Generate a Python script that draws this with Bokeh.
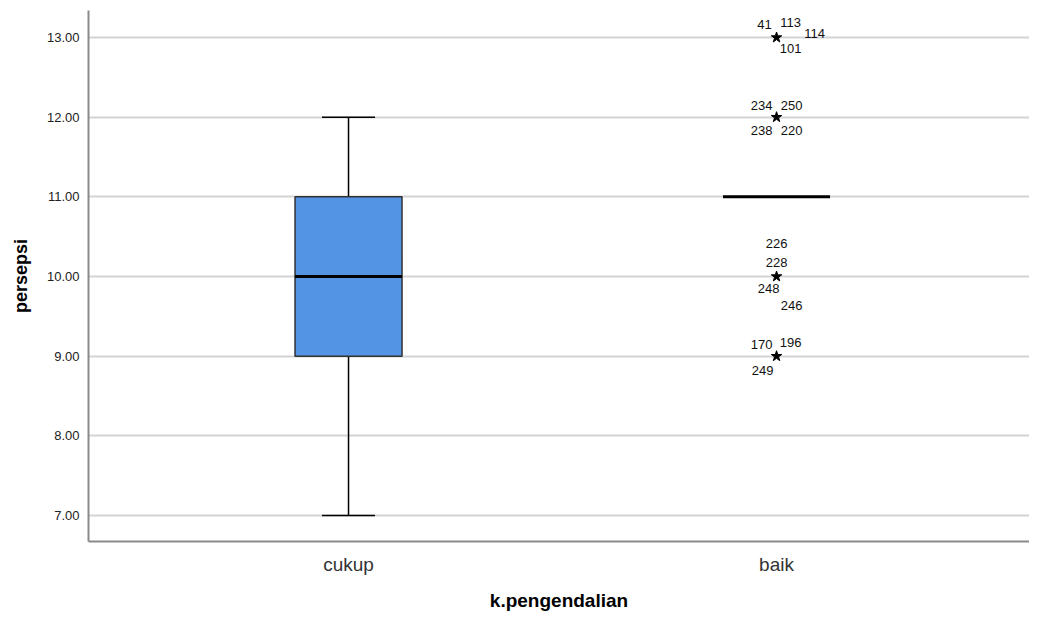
from bokeh.plotting import figure
from bokeh.models import Range1d, FixedTicker, ColumnDataSource
from bokeh.embed import file_html
from bokeh.resources import INLINE
from bokeh.core.properties import value

# ---- data ----
categories = ["cukup", "baik"]
whisker_low = [7.0, 11.0]
q1 = [9.0, 11.0]
median = [10.0, 11.0]
q3 = [11.0, 11.0]
whisker_high = [12.0, 11.0]

outlier_category = ["baik"] * 15
outlier_values = [13, 13, 13, 13, 12, 12, 12, 12, 10, 10, 10, 10, 9, 9, 9]
outlier_cases = ["41", "113", "114", "101",
                 "234", "250", "238", "220",
                 "226", "228", "248", "246",
                 "170", "196", "249"]

y_ticks = [7, 8, 9, 10, 11, 12, 13]

# ---- label placement (screen pixels relative to the star) ----
label_dx = [-12, 14, 38, 14, -15, 15, -15, 15, 0, 0, -8, 15, -15, 14, -14]
label_dy = [-13, -15, -4, 11, -12, -12, 13, 13, -33, -14, 12, 29, -12, -14, 14]

pos = {c: i + 1 for i, c in enumerate(categories)}
xs = [pos[c] for c in categories]

FONT = "Liberation Sans"

p = figure(frame_width=941, frame_height=531, output_backend="svg",
           toolbar_location=None, x_range=Range1d(0.3925, 2.591),
           y_range=Range1d(6.674, 13.339), min_border_left=88,
           min_border_top=10, min_border_right=0, min_border_bottom=4)
p.outline_line_color = None
p.background_fill_color = "white"
p.border_fill_color = "white"

# grid
p.xgrid.grid_line_color = None
p.ygrid.grid_line_color = "#d4d4d4"
p.ygrid.grid_line_width = 2
p.ygrid.ticker = FixedTicker(ticks=y_ticks)

# y axis
p.yaxis.ticker = FixedTicker(ticks=y_ticks)
p.yaxis.major_label_overrides = {t: f"{t:.2f}" for t in y_ticks}
p.yaxis.major_tick_line_color = None
p.yaxis.minor_tick_line_color = None
p.yaxis.major_label_standoff = 3
p.yaxis.major_label_text_font = FONT
p.yaxis.major_label_text_font_size = "13px"
p.yaxis.major_label_text_color = "#222222"
p.yaxis.axis_label = "persepsi"
p.yaxis.axis_label_text_font = FONT
p.yaxis.axis_label_text_font_style = "bold"
p.yaxis.axis_label_text_font_size = "18px"
p.yaxis.axis_label_text_color = "#000000"
p.yaxis.axis_label_standoff = 13
p.yaxis.axis_line_color = "#8a8a8a"
p.yaxis.axis_line_width = 2

# x axis
p.xaxis.ticker = FixedTicker(ticks=xs)
p.xaxis.major_label_overrides = {pos[c]: c for c in categories}
p.xaxis.major_tick_line_color = None
p.xaxis.minor_tick_line_color = None
p.xaxis.major_label_standoff = 6
p.xaxis.major_label_text_font = FONT
p.xaxis.major_label_text_font_size = "19px"
p.xaxis.major_label_text_color = "#333333"
p.xaxis.axis_label = "k.pengendalian"
p.xaxis.axis_label_text_font = FONT
p.xaxis.axis_label_text_font_style = "bold"
p.xaxis.axis_label_text_font_size = "19px"
p.xaxis.axis_label_text_color = "#000000"
p.xaxis.axis_label_standoff = 12
p.xaxis.axis_line_color = "#8a8a8a"
p.xaxis.axis_line_width = 2

box_w = 0.25
cap_w = 0.124

# whiskers (only where they extend beyond the box)
seg_x, seg_y0, seg_y1 = [], [], []
cap_x, cap_y = [], []
for x, lo, a, b, hi in zip(xs, whisker_low, q1, q3, whisker_high):
    if lo < a:
        seg_x.append(x); seg_y0.append(lo); seg_y1.append(a)
        cap_x.append(x); cap_y.append(lo)
    if hi > b:
        seg_x.append(x); seg_y0.append(b); seg_y1.append(hi)
        cap_x.append(x); cap_y.append(hi)
p.segment(x0=seg_x, y0=seg_y0, x1=seg_x, y1=seg_y1, line_color="#000000", line_width=1.5)
p.segment(x0=[x - cap_w / 2 for x in cap_x], y0=cap_y,
          x1=[x + cap_w / 2 for x in cap_x], y1=cap_y,
          line_color="#000000", line_width=1.5)

# boxes
bx = [(x, a, b) for x, a, b in zip(xs, q1, q3) if b > a]
p.quad(left=[x - box_w / 2 for x, a, b in bx], right=[x + box_w / 2 for x, a, b in bx],
       bottom=[a for x, a, b in bx], top=[b for x, a, b in bx],
       fill_color="#5494e4", line_color="#333333", line_width=1.5)

# medians
p.segment(x0=[x - box_w / 2 for x in xs], y0=median,
          x1=[x + box_w / 2 for x in xs], y1=median,
          line_color="#000000", line_width=3)

# outliers
ox = [pos[c] for c in outlier_category]
uniq = sorted(set(zip(ox, outlier_values)))
p.scatter(x=[u[0] for u in uniq], y=[u[1] for u in uniq], marker="star",
          size=11, fill_color="#000000", line_color="#000000")

src = ColumnDataSource(dict(x=ox, y=outlier_values, t=outlier_cases,
                            dx=label_dx, dy=label_dy))
p.text(x="x", y="y", text="t", x_offset="dx", y_offset="dy", source=src,
       text_font=value(FONT), text_font_size="13px", text_color="#111111",
       text_align="center", text_baseline="middle")

open("out.html", "w").write(file_html(p, INLINE))
